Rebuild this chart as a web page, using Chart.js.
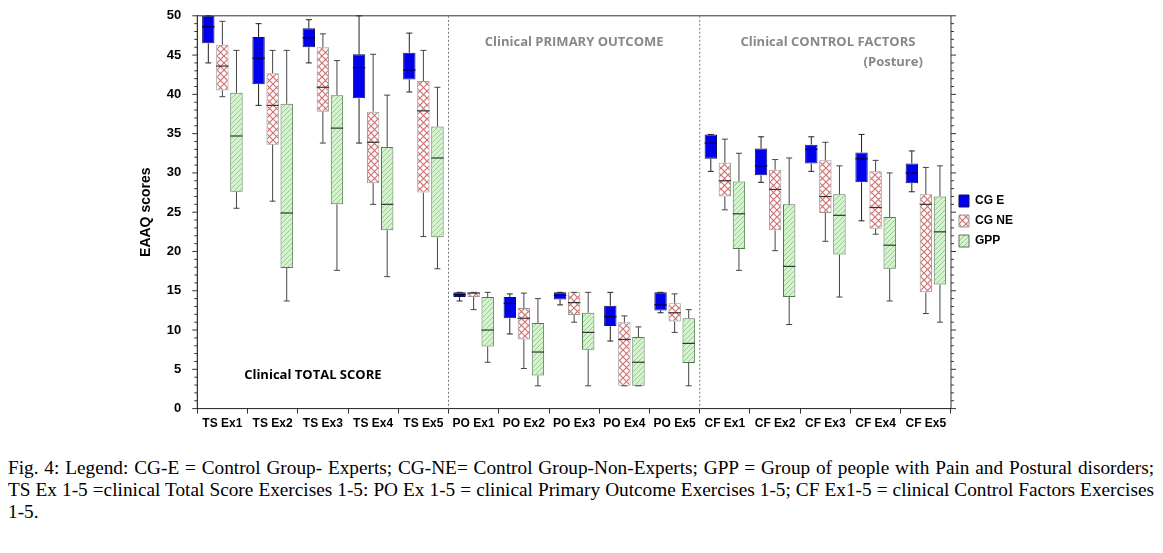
<!DOCTYPE html>
<html><head><meta charset="utf-8">
<script src="https://cdn.jsdelivr.net/npm/chart.js@4"></script>
<style>
body{margin:0;background:#fff;width:1163px;height:553px;overflow:hidden}
#wrap{position:absolute;left:0;top:0;width:1163px;height:438px}
#cap{position:absolute;left:8px;top:457px;width:1146px;font-family:"Liberation Serif",serif;font-size:19.3px;line-height:22px;text-align:justify;color:#000}
</style></head><body>
<div id="wrap"><canvas id="c"></canvas></div>
<div id="cap">Fig. 4: Legend: CG-E = Control Group- Experts; CG-NE= Control Group-Non-Experts; GPP = Group of people with Pain and Postural disorders; TS Ex 1-5 =clinical Total Score Exercises 1-5: PO Ex 1-5 = clinical Primary Outcome Exercises 1-5; CF Ex1-5 = clinical Control Factors Exercises 1-5.</div>
<script>
const categories=["TS Ex1","TS Ex2","TS Ex3","TS Ex4","TS Ex5","PO Ex1","PO Ex2","PO Ex3","PO Ex4","PO Ex5","CF Ex1","CF Ex2","CF Ex3","CF Ex4","CF Ex5"];
const seriesNames=["CG E","CG NE","GPP"];
// [min, q1, median, q3, max]
const cgE=[[44.0,46.5,48.6,50,50],[38.6,41.3,44.6,47.3,49.0],[44.0,46.0,47.2,48.4,49.5],[33.8,39.5,43.4,45.1,50],[40.3,41.9,43.1,45.3,47.8],
[13.7,14.2,14.5,14.8,14.8],[9.5,11.5,13.4,14.2,14.6],[13.2,13.9,14.4,14.8,14.8],[8.6,10.5,11.7,13.1,14.8],[12.2,12.5,13.2,14.8,14.8],
[30.2,31.8,33.8,34.9,34.9],[28.8,29.7,30.9,33.1,34.6],[30.2,31.2,33.0,33.6,34.6],[23.9,28.8,31.8,32.6,34.9],[27.6,28.7,30.0,31.2,32.8]];
const cgNE=[[39.7,40.5,43.6,46.3,49.3],[26.4,33.6,38.6,42.7,45.6],[33.8,37.8,40.9,46.0,47.7],[26.0,28.7,33.9,37.8,45.1],[21.9,27.5,37.9,41.7,45.6],
[12.6,14.2,14.7,14.8,14.8],[5.1,8.8,11.5,12.8,14.7],[11.0,11.9,13.5,14.8,14.8],[2.9,2.9,8.8,11.0,11.8],[9.7,11.1,12.2,13.4,14.6],
[25.3,27.0,29.0,31.3,34.3],[20.1,22.7,27.9,30.4,31.7],[21.3,24.9,27.0,31.6,33.9],[22.2,22.9,25.6,30.2,31.6],[12.1,14.8,26.0,27.3,30.7]];
const gpp=[[25.5,27.6,34.7,40.2,45.6],[13.7,17.9,24.9,38.8,45.6],[17.6,26.0,35.7,39.9,44.3],[16.8,22.7,26.0,33.3,39.9],[17.8,21.8,31.9,35.9,40.9],
[5.9,7.9,10.0,14.2,14.8],[2.9,4.2,7.2,10.9,14.0],[2.9,7.5,9.7,12.2,14.8],[2.9,2.9,5.9,9.1,10.4],[2.9,5.8,8.3,11.5,12.6],
[17.6,20.3,24.8,28.9,32.5],[10.7,14.2,18.1,26.0,31.9],[14.2,19.6,24.6,27.3,30.9],[13.7,17.8,20.8,24.4,30.0],[11.0,15.8,22.5,27.0,30.9]];
const yTicks=[0,5,10,15,20,25,30,35,40,45,50];

function pat(kind){
  const c=document.createElement('canvas');const s=kind==='x'?7:5;c.width=s;c.height=s;const g=c.getContext('2d');
  if(kind==='x'){g.fillStyle='#fff';g.fillRect(0,0,s,s);g.strokeStyle='#d07070';g.lineWidth=1.2;
    g.beginPath();g.moveTo(0,0);g.lineTo(s,s);g.moveTo(s,0);g.lineTo(0,s);g.stroke();}
  else{g.fillStyle='#d6f2d0';g.fillRect(0,0,s,s);g.strokeStyle='#93d08a';g.lineWidth=1;
    g.beginPath();g.moveTo(0,s);g.lineTo(s,0);g.moveTo(-1,1);g.lineTo(1,-1);g.moveTo(s-1,s+1);g.lineTo(s+1,s-1);g.stroke();}
  return document.getElementById('c').getContext('2d').createPattern(c,'repeat');
}
const all=[cgE,cgNE,gpp];
const fills=['#0000ee',pat('x'),pat('g')];
const borders=['#101060','#999','#557755'];

const boxPlugin={id:'box',afterDatasetsDraw(ch){
  const g=ch.ctx,x=ch.scales.x,y=ch.scales.y,a=ch.chartArea;
  g.save();
  all.forEach((ser,di)=>{const meta=ch.getDatasetMeta(di);
    ser.forEach((v,i)=>{const el=meta.data[i];const cx=el.x,w=el.width;
      g.strokeStyle=di===0?'#222':'#444';g.lineWidth=1;
      const lo=y.getPixelForValue(v[0]),q1=y.getPixelForValue(v[1]),md=y.getPixelForValue(v[2]),q3=y.getPixelForValue(v[3]),hi=y.getPixelForValue(v[4]);
      g.beginPath();g.moveTo(cx,q3);g.lineTo(cx,hi);g.moveTo(cx-3,hi);g.lineTo(cx+3,hi);
      g.moveTo(cx,q1);g.lineTo(cx,lo);g.moveTo(cx-3,lo);g.lineTo(cx+3,lo);g.stroke();
      g.strokeStyle=di===0?'#000040':'#333';g.lineWidth=1.2;
      g.beginPath();g.moveTo(cx-w/2,md);g.lineTo(cx+w/2,md);g.stroke();
    });});
  g.strokeStyle='#333';g.lineWidth=1;g.strokeRect(a.left,a.top,a.right-a.left,a.bottom-a.top);
  for(let v=0;v<=50;v++){const py=y.getPixelForValue(v);const L=v%5===0?5:3;
    g.beginPath();g.moveTo(a.left,py);g.lineTo(a.left-L,py);g.moveTo(a.right,py);g.lineTo(a.right+L,py);g.stroke();}
  g.setLineDash([2,2]);g.strokeStyle='#777';
  [4.5,9.5].forEach(s=>{const px=(x.getPixelForValue(Math.floor(s))+x.getPixelForValue(Math.ceil(s)))/2;
    g.beginPath();g.moveTo(px,a.top);g.lineTo(px,a.bottom);g.stroke();});
  g.setLineDash([]);
  g.font='bold 13px "Open Sans",Arial,sans-serif';g.textAlign='center';g.textBaseline='middle';
  g.fillStyle='#000';g.fillText('Clinical TOTAL SCORE',x.getPixelForValue(1.8),y.getPixelForValue(4.3));
  g.fillStyle='#888';
  g.fillText('Clinical PRIMARY OUTCOME',x.getPixelForValue(7),y.getPixelForValue(46.6));
  g.fillText('Clinical CONTROL FACTORS',x.getPixelForValue(12.05),y.getPixelForValue(46.6));
  g.fillText('(Posture)',x.getPixelForValue(13.35),y.getPixelForValue(44.1));
  g.restore();
}};

new Chart(document.getElementById('c'),{
  type:'bar',
  data:{labels:categories,datasets:all.map((s,i)=>({label:seriesNames[i],data:s.map(v=>[v[1],v[3]]),
    backgroundColor:fills[i],borderColor:borders[i],borderWidth:1,borderSkipped:false,
    categoryPercentage:0.84,barPercentage:0.88}))},
  options:{responsive:true,maintainAspectRatio:false,animation:false,
    layout:{padding:{left:134,right:140,top:8,bottom:4}},
    plugins:{tooltip:{enabled:false},
      legend:{position:'right',labels:{boxWidth:10,boxHeight:12,padding:8,color:'#000',font:{size:12,weight:'bold',family:'Arial'}}}},
    scales:{
      x:{grid:{display:true,drawOnChartArea:false,tickLength:5,color:'#333'},border:{color:'#333'},
        ticks:{color:'#000',maxRotation:0,autoSkip:false,font:{size:12,weight:'bold',family:'Arial'}}},
      y:{min:0,max:50,afterBuildTicks:s=>{s.ticks=yTicks.map(v=>({value:v}));},
        grid:{display:false},border:{color:'#333'},
        ticks:{color:'#000',padding:8,font:{size:13,weight:'bold',family:'Arial'}},
        title:{display:true,text:'EAAQ scores',color:'#000',font:{size:14,weight:'bold',family:'Arial'}}}
    }},
  plugins:[boxPlugin]
});
</script></body></html>
